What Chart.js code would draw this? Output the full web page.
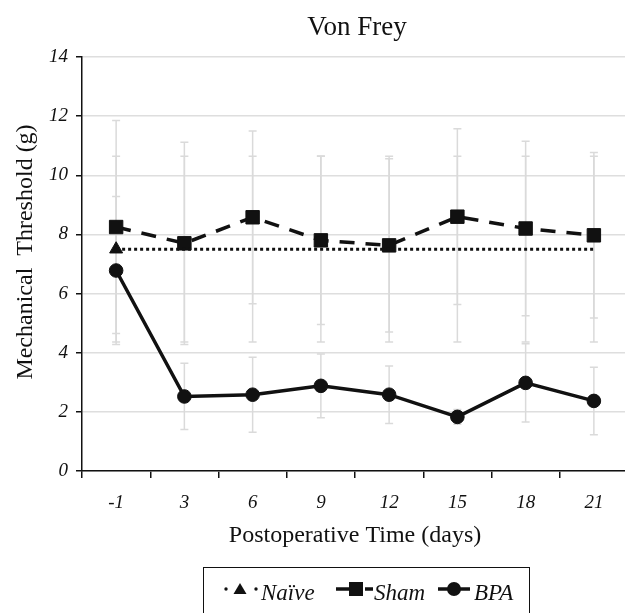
<!DOCTYPE html>
<html><head><meta charset="utf-8">
<script src="https://cdn.jsdelivr.net/npm/chart.js@4"></script>
<style>
html,body{margin:0;padding:0;background:#fff;overflow:hidden;}
#wrap{position:relative;width:625px;height:613px;overflow:hidden;}
#c{position:absolute;left:0;top:0;}
#legend{position:absolute;left:203px;top:567px;width:327px;height:60px;border:1.5px solid #111;box-sizing:border-box;font-family:"Liberation Serif",serif;font-style:italic;font-size:23px;color:#111;}
#legend svg{position:absolute;left:0;top:0;}
#legend span{position:absolute;top:11px;line-height:28px;white-space:nowrap;}
</style>
</head><body>
<div id="wrap">
<canvas id="c" width="628" height="613"></canvas>
<div id="legend">
<svg width="327" height="45">
  <circle cx="22" cy="21" r="1.7" fill="#111"/>
  <polygon points="36,15 42.5,26 29.5,26" fill="#111"/>
  <circle cx="52" cy="21" r="1.7" fill="#111"/>
  <line x1="132" y1="21" x2="145" y2="21" stroke="#111" stroke-width="3.5"/>
  <rect x="145" y="14" width="14" height="14" fill="#111"/>
  <line x1="161" y1="21" x2="169" y2="21" stroke="#111" stroke-width="3.5"/>
  <line x1="234" y1="21" x2="266" y2="21" stroke="#111" stroke-width="3.5"/>
  <circle cx="250" cy="21" r="7" fill="#111"/>
</svg>
<span style="left:57px">Naïve</span>
<span style="left:170px">Sham</span>
<span style="left:270px">BPA</span>
</div>
</div>
<script>
const categories = ['-1', '3', '6', '9', '12', '15', '18', '21'];
const naive    = [7.5, 7.5, 7.5, 7.5, 7.5, 7.5, 7.5, 7.5];
const naiveErr = [3.14, 3.14, 3.14, 3.14, 3.14, 3.14, 3.14, 3.14];
const sham     = [8.25, 7.7, 8.58, 7.8, 7.63, 8.6, 8.2, 7.97];
const shamErr  = [3.6, 3.42, 2.92, 2.85, 2.93, 2.97, 2.95, 2.8];
const bpa      = [6.78, 2.52, 2.58, 2.88, 2.58, 1.83, 2.98, 2.37];
const bpaErr   = [2.5, 1.12, 1.27, 1.08, 0.97, 0.25, 1.32, 1.14];
const yTicks   = [0, 2, 4, 6, 8, 10, 12, 14];
const chartTitle = 'Von Frey';
const xTitle = 'Postoperative Time (days)';
const yTitle = 'Mechanical  Threshold (g)';

const SERIF = '"Liberation Serif", "Times New Roman", serif';
const errors = [naiveErr, shamErr, bpaErr];

const errorBarPlugin = {
  id: 'errorBars',
  beforeDatasetsDraw(chart) {
    const {ctx, scales: {x, y}} = chart;
    ctx.save();
    ctx.strokeStyle = '#dadada';
    ctx.lineWidth = 1.5;
    chart.data.datasets.forEach((ds, di) => {
      const err = errors[di];
      ds.data.forEach((v, i) => {
        const px = x.getPixelForValue(i);
        const top = y.getPixelForValue(v + err[i]);
        const bot = y.getPixelForValue(v - err[i]);
        ctx.beginPath();
        ctx.moveTo(px, top); ctx.lineTo(px, bot);
        ctx.moveTo(px - 4, top); ctx.lineTo(px + 4, top);
        ctx.moveTo(px - 4, bot); ctx.lineTo(px + 4, bot);
        ctx.stroke();
      });
    });
    ctx.restore();
  }
};

const titlePlugin = {
  id: 'titles',
  afterDraw(chart) {
    const {ctx, chartArea} = chart;
    ctx.save();
    ctx.fillStyle = '#111';
    ctx.textAlign = 'center';
    ctx.textBaseline = 'alphabetic';
    ctx.font = '27px ' + SERIF;
    ctx.fillText(chartTitle, (chartArea.left + chartArea.right) / 2 + 2, 35);
    // y-axis title, rotated
    ctx.font = '24px ' + SERIF;
    ctx.translate(32, (chartArea.top + chartArea.bottom) / 2 - 12);
    ctx.rotate(-Math.PI / 2);
    ctx.fillText(yTitle, 0, 0);
    ctx.restore();
  }
};

new Chart(document.getElementById('c'), {
  type: 'line',
  data: {
    labels: categories,
    datasets: [
      {
        label: 'Naïve', data: naive,
        borderColor: '#111', backgroundColor: '#111', borderWidth: 3,
        borderDash: [3, 3],
        pointStyle: 'triangle',
        pointRadius: (c) => c.dataIndex === 0 ? 7.5 : 0,
        pointBorderWidth: 1, tension: 0
      },
      {
        label: 'Sham', data: sham,
        borderColor: '#111', backgroundColor: '#111', borderWidth: 3.5,
        borderDash: [15, 11],
        pointStyle: 'rect', pointRadius: 9.5, pointBorderWidth: 1, tension: 0
      },
      {
        label: 'BPA', data: bpa,
        borderColor: '#111', backgroundColor: '#111', borderWidth: 3.5,
        pointStyle: 'circle', pointRadius: 6.8, pointBorderWidth: 1, tension: 0
      }
    ]
  },
  options: {
    responsive: false,
    animation: false,
    devicePixelRatio: 1,
    layout: { autoPadding: false, padding: { top: 57, right: 0, bottom: 62, left: 0 } },
    plugins: {
      legend: { display: false },
      title: { display: false },
      tooltip: { enabled: false }
    },
    scales: {
      x: {
        type: 'category',
        offset: true,
        afterFit(s) { s.height = 80; s.paddingLeft = 0; s.paddingRight = 0; },
        border: { display: true, color: '#111', width: 1.5 },
        grid: { drawOnChartArea: false, drawTicks: true, tickLength: 7, tickColor: '#111', lineWidth: 1.5, offset: true },
        ticks: { color: '#111', padding: 14, font: { family: SERIF, size: 19, style: 'italic' } },
        title: { display: true, text: xTitle, color: '#111', padding: { top: 0, bottom: 1 }, font: { family: SERIF, size: 24 } }
      },
      y: {
        min: 0, max: 14,
        afterFit(s) { s.width = 82; },
        afterBuildTicks(s) { s.ticks = yTicks.map(v => ({ value: v })); },
        border: { display: true, color: '#111', width: 1.5 },
        grid: { color: '#dedede', lineWidth: 1.5, tickColor: '#111', tickLength: 6, drawTicks: true },
        ticks: { color: '#111', padding: 8, font: { family: SERIF, size: 19, style: 'italic' } },
        title: { display: false }
      }
    }
  },
  plugins: [errorBarPlugin, titlePlugin]
});
</script>
</body></html>
